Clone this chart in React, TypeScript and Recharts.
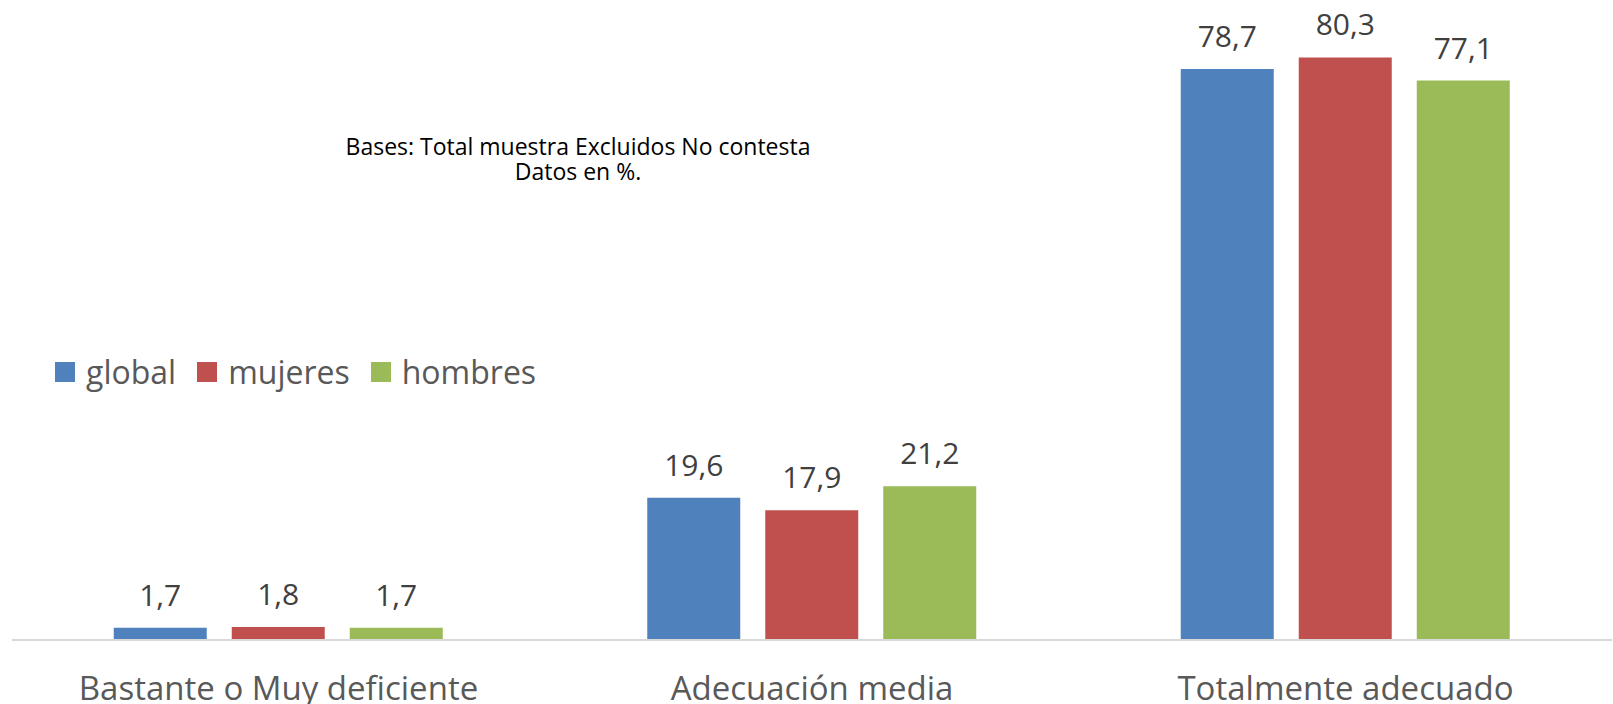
import React from 'react';
import { BarChart, Bar, XAxis, YAxis, LabelList, Legend } from 'recharts';

const categories = ['Bastante o Muy deficiente', 'Adecuación media', 'Totalmente adecuado'];
const globalValues = [1.7, 19.6, 78.7];
const mujeresValues = [1.8, 17.9, 80.3];
const hombresValues = [1.7, 21.2, 77.1];
const seriesNames = ['global', 'mujeres', 'hombres'];
const seriesColors = ['#4F81BD', '#C0504D', '#9BBB59'];
const noteLines = ['Bases: Total muestra Excluidos No contesta', 'Datos en %.'];

const data = categories.map((c, i) => ({
  name: c,
  global: globalValues[i],
  mujeres: mujeresValues[i],
  hombres: hombresValues[i],
}));

const FONT = '"Open Sans", "Noto Sans", sans-serif';

const fmt = (v: any) => String(v).replace('.', ',');

const CategoryTick = (props: any) => {
  const { x, y, payload } = props;
  return (
    <text x={x} y={y} dy={52} textAnchor="middle" fill="#595959" fontSize={33} fontFamily={FONT}>
      {payload.value}
    </text>
  );
};

const LegendContent = () => {
  return (
    <div style={{ display: 'flex', alignItems: 'center', fontFamily: FONT }}>
      {seriesNames.map((name, i) => (
        <div key={name} style={{ display: 'flex', alignItems: 'center', marginRight: 21 }}>
          <div style={{ width: 20, height: 20, background: seriesColors[i], marginRight: 11 }} />
          <span style={{ fontSize: 32, color: '#595959', lineHeight: '40px' }}>{name}</span>
        </div>
      ))}
    </div>
  );
};

export default function App() {
  return (
    <div style={{ position: 'absolute', left: 0, top: 0, width: 1613, height: 704, background: '#fff', fontFamily: FONT }}>
      <BarChart
        width={1613}
        height={704}
        data={data}
        margin={{ top: 23.3, right: 0.75, left: 11.75, bottom: 0 }}
        barSize={93}
        barGap={25}
      >
        <XAxis
          dataKey="name"
          height={64}
          tickLine={false}
          axisLine={{ stroke: '#d9d9d9', strokeWidth: 2 }}
          tick={<CategoryTick />}
          interval={0}
        />
        <YAxis hide domain={[0, 85]} />
        <Legend
          layout="horizontal"
          verticalAlign="middle"
          align="center"
          content={<LegendContent />}
          wrapperStyle={{ left: 55, top: 352, width: 'auto' }}
        />
        {seriesNames.map((s, i) => (
          <Bar key={s} dataKey={s} name={s} fill={seriesColors[i]} isAnimationActive={false}>
            <LabelList
              dataKey={s}
              position="top"
              offset={22}
              formatter={fmt}
              fill="#404040"
              fontSize={30}
              fontFamily={FONT}
            />
          </Bar>
        ))}
      </BarChart>
      <div
        style={{
          position: 'absolute',
          left: 578,
          top: 134,
          transform: 'translateX(-50%)',
          textAlign: 'center',
          fontSize: 23,
          lineHeight: '25px',
          color: '#000',
          whiteSpace: 'nowrap',
          fontFamily: FONT,
        }}
      >
        {noteLines.map((l, i) => (
          <div key={i}>{l}</div>
        ))}
      </div>
    </div>
  );
}
